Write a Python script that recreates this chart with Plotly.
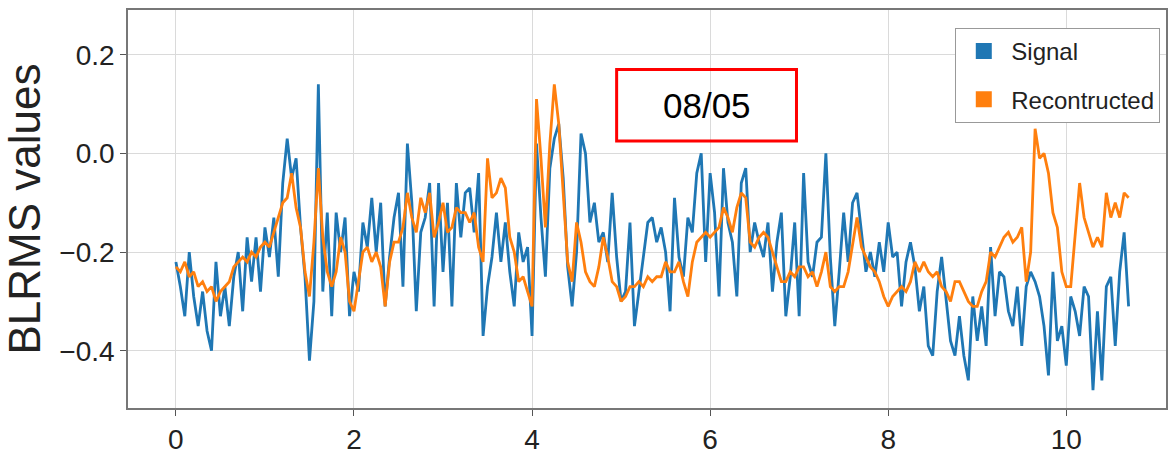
import numpy as np
import plotly.graph_objects as go

# sampling interval of the BLRMS series (same time base for both curves)
dt = 0.05

signal = [
    -0.22, -0.27, -0.33, -0.20, -0.29, -0.35, -0.28, -0.36, -0.40, -0.22,
    -0.33, -0.27, -0.35, -0.25, -0.20, -0.32, -0.17, -0.26, -0.17, -0.28,
    -0.15, -0.21, -0.13, -0.25, -0.06, 0.03, -0.05, -0.01, -0.15, -0.25,
    -0.42, -0.30, 0.14, -0.28, -0.12, -0.33, -0.12, -0.20, -0.13, -0.33,
    -0.24, -0.28, -0.14, -0.19, -0.09, -0.20, -0.10, -0.31, -0.21, -0.13,
    -0.08, -0.27, 0.02, -0.10, -0.32, -0.16, -0.13, -0.06, -0.31, -0.06,
    -0.24, -0.10, -0.31, -0.06, -0.17, -0.08, -0.07, -0.16, -0.04, -0.37,
    -0.27, -0.21, -0.12, -0.22, -0.14, -0.24, -0.31, -0.16, -0.22, -0.19,
    -0.37, 0.02, -0.13, -0.25, -0.03, 0.03, 0.06, -0.05, -0.23, -0.31,
    -0.20, 0.04, 0.00, -0.14, -0.10, -0.18, -0.16, -0.22, -0.08, -0.21,
    -0.30, -0.28, -0.14, -0.35, -0.28, -0.21, -0.14, -0.13, -0.18, -0.15,
    -0.20, -0.32, -0.09, -0.21, -0.25, -0.13, -0.16, -0.04, 0.00, -0.22,
    -0.04, -0.12, -0.29, -0.03, -0.14, -0.18, -0.29, -0.06, -0.03, -0.20,
    -0.14, -0.18, -0.21, -0.14, -0.28, -0.18, -0.12, -0.33, -0.25, -0.14,
    -0.33, -0.04, -0.22, -0.25, -0.18, -0.17, 0.00, -0.21, -0.35, -0.24,
    -0.12, -0.22, -0.10, -0.08, -0.16, -0.24, -0.20, -0.25, -0.18, -0.24,
    -0.14, -0.21, -0.20, -0.31, -0.22, -0.18, -0.23, -0.32, -0.27, -0.39,
    -0.41, -0.28, -0.21, -0.29, -0.38, -0.41, -0.33, -0.41, -0.46, -0.29,
    -0.38, -0.31, -0.39, -0.19, -0.33, -0.24, -0.25, -0.32, -0.35, -0.27,
    -0.39, -0.27, -0.24, -0.26, -0.29, -0.35, -0.45, -0.24, -0.38, -0.35,
    -0.43, -0.29, -0.32, -0.37, -0.27, -0.29, -0.48, -0.32, -0.46, -0.27,
    -0.25, -0.39, -0.24, -0.16, -0.31,
]

reconstructed = [
    -0.23, -0.24, -0.22, -0.25, -0.24, -0.27, -0.26, -0.28, -0.27, -0.30,
    -0.28, -0.27, -0.26, -0.23, -0.22, -0.21, -0.22, -0.20, -0.21, -0.19,
    -0.18, -0.19, -0.16, -0.13, -0.10, -0.09, -0.04, -0.11, -0.15, -0.24,
    -0.29, -0.18, -0.03, -0.17, -0.24, -0.27, -0.24, -0.17, -0.20, -0.30,
    -0.32, -0.26, -0.20, -0.19, -0.22, -0.20, -0.23, -0.31, -0.22, -0.18,
    -0.18, -0.15, -0.08, -0.13, -0.16, -0.09, -0.12, -0.08, -0.17, -0.14,
    -0.10, -0.16, -0.15, -0.11, -0.12, -0.12, -0.14, -0.12, -0.19, -0.22,
    -0.01, -0.09, -0.08, -0.05, -0.07, -0.17, -0.20, -0.26, -0.25, -0.28,
    -0.31, 0.11, -0.01, -0.15, 0.02, 0.14, 0.06, -0.08, -0.22, -0.26,
    -0.14, -0.18, -0.24, -0.26, -0.27, -0.23, -0.17, -0.21, -0.26, -0.27,
    -0.30, -0.29, -0.27, -0.27, -0.26, -0.27, -0.25, -0.26, -0.25, -0.25,
    -0.22, -0.24, -0.24, -0.22, -0.26, -0.29, -0.22, -0.18, -0.17, -0.16,
    -0.17, -0.16, -0.15, -0.11, -0.13, -0.16, -0.11, -0.08, -0.09, -0.18,
    -0.19, -0.17, -0.16, -0.17, -0.20, -0.23, -0.26, -0.26, -0.24, -0.25,
    -0.23, -0.23, -0.25, -0.24, -0.27, -0.24, -0.20, -0.27, -0.28, -0.27,
    -0.27, -0.24, -0.18, -0.13, -0.19, -0.21, -0.23, -0.24, -0.26, -0.29,
    -0.31, -0.29, -0.28, -0.27, -0.28, -0.26, -0.22, -0.24, -0.22, -0.24,
    -0.25, -0.24, -0.27, -0.28, -0.30, -0.26, -0.26, -0.28, -0.30, -0.31,
    -0.31, -0.28, -0.26, -0.20, -0.21, -0.19, -0.17, -0.16, -0.18, -0.17,
    -0.15, -0.26, -0.20, 0.05, -0.01, 0.00, -0.04, -0.12, -0.15, -0.24,
    -0.27, -0.27, -0.16, -0.06, -0.13, -0.16, -0.19, -0.17, -0.19, -0.08,
    -0.13, -0.10, -0.13, -0.08, -0.09,
]

x_ticks = [0, 2, 4, 6, 8, 10]
y_ticks = [-0.4, -0.2, 0.0, 0.2]
y_tick_text = ["\u22120.4", "\u22120.2", "0.0", "0.2"]

series_names = ["Signal", "Recontructed"]
series_colors = ["#1f77b4", "#ff7f0e"]
date_label = "08/05"

t_sig = np.arange(len(signal)) * dt
t_rec = np.arange(len(reconstructed)) * dt

FONT = "Liberation Sans, Arial, Helvetica, sans-serif"

fig = go.Figure()
for t, vals, name, color in zip([t_sig, t_rec], [signal, reconstructed],
                                series_names, series_colors):
    fig.add_trace(go.Scatter(
        x=t, y=vals, mode="lines", name=name,
        line=dict(color=color, width=2.8),
        showlegend=False, legendgroup=name,
    ))

# legend entries drawn as filled square patches
for name, color in zip(series_names, series_colors):
    fig.add_trace(go.Scatter(
        x=[None], y=[None], mode="markers", name=name,
        marker=dict(symbol="square", size=22, color=color),
        legendgroup=name, showlegend=True,
    ))

# framed date tag
fig.add_shape(type="rect", xref="x", yref="y",
              x0=4.95, x1=6.97, y0=0.025, y1=0.17,
              line=dict(color="#ff0000", width=3), fillcolor="rgba(0,0,0,0)")
fig.add_annotation(x=5.96, y=0.0975, xref="x", yref="y", text=date_label,
                   showarrow=False, font=dict(family=FONT, size=35, color="black"))

axis_common = dict(
    showgrid=True, gridcolor="#dadada", gridwidth=1.3,
    showline=True, linecolor="#777777", linewidth=1.5, mirror=True,
    ticks="outside", ticklen=6, tickcolor="#555555", tickwidth=1.3,
    tickfont=dict(family=FONT, size=28, color="#222222"),
    zeroline=False,
)

fig.update_layout(
    width=1173, height=460,
    margin=dict(l=128, r=5, t=10, b=50),
    paper_bgcolor="white", plot_bgcolor="white",
    font=dict(family=FONT),
    xaxis=dict(range=[-0.538, 11.12], tickvals=x_ticks, **axis_common),
    yaxis=dict(range=[-0.516, 0.2906], tickvals=y_ticks, ticktext=y_tick_text,
               title=dict(text="BLRMS values", standoff=14,
                          font=dict(family=FONT, size=44, color="#222222")),
               **axis_common),
    legend=dict(x=0.797, y=0.955, xanchor="left", yanchor="top",
                bgcolor="white", bordercolor="#999999", borderwidth=1,
                font=dict(family=FONT, size=24, color="#222222"),
                tracegroupgap=14, itemwidth=45),
)

fig.write_html("out.html")
